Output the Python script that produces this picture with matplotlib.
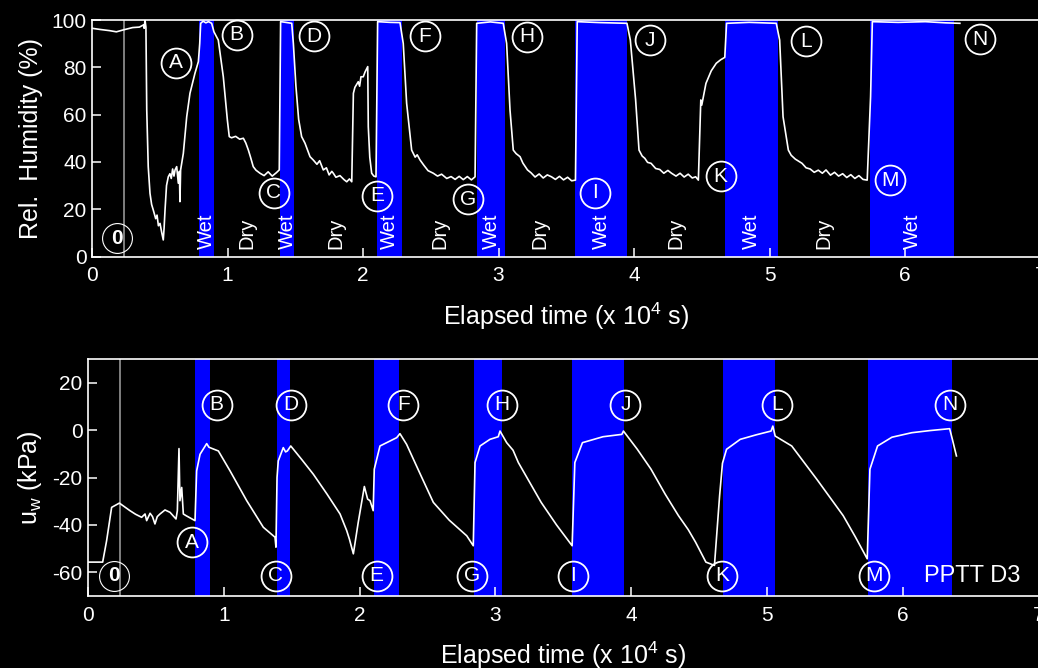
import numpy as np
import matplotlib
matplotlib.use("Agg")
import matplotlib.pyplot as plt

plt.rcParams['font.family'] = ['Liberation Sans', 'DejaVu Sans']
plt.rcParams['mathtext.default'] = 'regular'
plt.rcParams['axes.unicode_minus'] = False

# wetting periods (x 10^4 s)
wet_start = [0.79, 1.39, 2.105, 2.845, 3.566, 4.674, 5.745]
wet_end = [0.897, 1.49, 2.29, 3.045, 3.95, 5.06, 6.365]

# relative humidity record
rh_time = [0.00, 0.06, 0.13, 0.18, 0.23, 0.30, 0.35, 0.379, 0.385, 0.391, 0.398, 0.404, 0.415, 0.428,
           0.44, 0.452, 0.47, 0.48, 0.49, 0.502, 0.515, 0.526, 0.532, 0.539, 0.55, 0.563, 0.575,
           0.585, 0.595, 0.605, 0.613, 0.625, 0.637, 0.645, 0.649, 0.654, 0.674, 0.699, 0.723,
           0.760, 0.785, 0.795, 0.802, 0.82, 0.84, 0.86, 0.883, 0.900, 0.932, 0.969, 0.999, 1.013,
           1.03, 1.06, 1.09, 1.117, 1.135, 1.154, 1.17, 1.19, 1.21, 1.24, 1.27, 1.30, 1.33, 1.36,
           1.382, 1.392, 1.43, 1.474, 1.486, 1.505, 1.525, 1.547, 1.572, 1.609, 1.633, 1.66, 1.68,
           1.707, 1.73, 1.75, 1.77, 1.781, 1.80, 1.83, 1.86, 1.88, 1.90, 1.917, 1.929, 1.94, 1.965,
           1.975, 1.985, 2.002, 2.015, 2.035, 2.039, 2.05, 2.064, 2.08, 2.096, 2.108, 2.20, 2.273,
           2.297, 2.322, 2.359, 2.385, 2.40, 2.421, 2.45, 2.48, 2.519, 2.55, 2.58, 2.618, 2.65,
           2.68, 2.71, 2.74, 2.77, 2.80, 2.827, 2.839, 2.94, 3.035, 3.06, 3.085, 3.109, 3.13,
           3.159, 3.18, 3.214, 3.24, 3.27, 3.30, 3.33, 3.36, 3.391, 3.42, 3.45, 3.48, 3.51, 3.54,
           3.568, 3.581, 3.75, 3.948, 3.973, 4.012, 4.037, 4.06, 4.08, 4.10, 4.126, 4.16, 4.19,
           4.22, 4.25, 4.277, 4.31, 4.34, 4.37, 4.40, 4.43, 4.455, 4.475, 4.493, 4.50, 4.531,
           4.57, 4.607, 4.64, 4.67, 4.683, 4.85, 5.05, 5.075, 5.10, 5.139, 5.16, 5.19, 5.24,
           5.27, 5.30, 5.33, 5.36, 5.39, 5.417, 5.45, 5.48, 5.51, 5.54, 5.57, 5.60, 5.63, 5.66,
           5.69, 5.721, 5.746, 5.759, 5.95, 6.15, 6.30, 6.405]
rh_value = [96.5, 96.0, 95.5, 95.0, 95.8, 96.8, 97.0, 97.9, 96.5, 100.0, 97.0, 62.0, 38.0, 26.7,
            22.0, 19.7, 16.0, 17.5, 13.0, 14.0, 10.0, 7.0, 12.0, 19.7, 30.0, 33.7, 35.0,
            33.0, 37.0, 34.0, 36.6, 38.0, 31.0, 36.0, 23.2, 36.6, 43.6, 59.1, 69.0,
            77.5, 82.4, 90.0, 98.6, 99.5, 98.8, 99.3, 98.6, 95.0, 91.5, 76.0, 57.7, 50.7,
            50.2, 50.8, 49.6, 50.0, 48.0, 45.0, 42.0, 38.0, 36.5, 35.2, 34.2, 35.8, 34.0, 35.4,
            36.6, 99.3, 99.0, 98.6, 90.1, 72.0, 58.0, 50.7, 47.9, 42.2, 40.8, 39.0, 40.5,
            36.6, 37.5, 34.5, 36.0, 35.2, 33.5, 34.2, 32.5, 31.6, 32.8, 31.6, 69.0, 71.5, 73.9,
            72.0, 76.0, 76.0, 78.0, 80.3, 54.9, 42.0, 35.2, 34.0, 33.7, 99.3, 99.0, 98.9,
            90.1, 64.8, 45.0, 42.0, 43.0, 40.8, 38.5, 36.3, 35.2, 34.0, 34.8, 33.0, 33.8,
            32.6, 33.9, 32.5, 33.8, 32.4, 33.7, 98.6, 99.2, 98.6, 90.1, 61.9, 45.0, 43.5,
            42.2, 39.5, 36.6, 35.4, 33.6, 34.9, 33.2, 34.5, 33.7, 32.6, 33.9, 32.4, 33.5, 32.0,
            32.3, 99.3, 98.9, 98.6, 91.5, 66.2, 45.0, 42.5, 41.5, 39.8, 39.4, 37.2, 36.8,
            35.2, 36.4, 35.2, 34.0, 35.2, 33.6, 34.8, 33.2, 33.7, 32.3, 66.2, 64.0, 73.2,
            78.5, 81.7, 83.2, 84.2, 98.6, 99.0, 98.6, 91.5, 59.1, 45.0, 42.8, 41.2, 39.4,
            37.5, 37.0, 35.6, 36.5, 35.2, 36.6, 34.4, 35.6, 34.0, 35.0, 33.4, 34.6, 33.0, 34.2,
            32.6, 32.3, 67.6, 99.3, 99.0, 99.3, 98.8, 98.6]

# pore water pressure record
uw_time = [0.000, 0.108, 0.137, 0.174, 0.231, 0.309, 0.35, 0.395, 0.42, 0.432, 0.457, 0.475, 0.493,
           0.510, 0.530, 0.567, 0.604, 0.648, 0.658, 0.670, 0.677, 0.69, 0.702, 0.722, 0.788,
           0.80, 0.825, 0.874, 0.89, 0.911, 0.96, 1.046, 1.169, 1.291, 1.377, 1.384, 1.392,
           1.401, 1.438, 1.455, 1.468, 1.493, 1.575, 1.659, 1.76, 1.856, 1.905, 1.925, 1.954,
           1.99, 2.035, 2.059, 2.077, 2.10, 2.108, 2.15, 2.224, 2.273, 2.297, 2.346, 2.45,
           2.543, 2.66, 2.789, 2.837, 2.85, 2.887, 2.96, 3.021, 3.034, 3.083, 3.13, 3.169,
           3.337, 3.45, 3.565, 3.585, 3.641, 3.792, 3.931, 3.943, 4.045, 4.146, 4.25, 4.348,
           4.42, 4.474, 4.55, 4.613, 4.651, 4.672, 4.702, 4.803, 4.92, 5.03, 5.043, 5.06,
           5.182, 5.37, 5.561, 5.65, 5.738, 5.758, 5.814, 5.92, 6.066, 6.20, 6.345, 6.365, 6.395]
uw_value = [-55.7, -55.7, -46.7, -32.6, -30.8, -34.0, -35.5, -36.8, -35.4, -38.2, -35.1, -36.5, -39.6,
            -36.5, -35.4, -33.7, -34.7, -37.5, -34.0, -7.8, -29.8, -24.2, -35.4, -36.1, -38.2,
            -17.2, -10.2, -5.7, -7.2, -7.7, -8.8, -17.2, -29.8, -41.0, -45.2, -49.4, -20.0,
            -13.0, -7.4, -9.2, -8.8, -6.7, -12.5, -18.6, -27.0, -35.4, -42.4, -46.0, -52.2,
            -38.9, -23.8, -29.1, -29.8, -34.0, -16.5, -6.7, -4.6, -3.2, -1.5, -6.0, -19.0,
            -30.5, -38.0, -44.6, -48.8, -13.7, -6.7, -3.9, -2.8, -0.4, -5.3, -8.5, -13.7,
            -30.5, -40.0, -48.8, -13.7, -5.3, -2.8, -1.8, -0.4, -8.1, -16.5, -27.0, -36.1,
            -42.0, -47.3, -55.7, -57.1, -27.7, -14.0, -8.1, -3.9, -2.0, -0.4, 1.7, -2.5,
            -6.7, -21.0, -36.1, -45.0, -54.3, -16.5, -6.7, -3.0, -1.1, -0.2, 0.6, -3.9, -10.9]

# circled stage markers
rh_mark_text = ['0', 'A', 'B', 'C', 'D', 'E', 'F', 'G', 'H', 'I', 'J', 'K', 'L', 'M', 'N']
rh_mark_x = [0.187, 0.62, 1.068, 1.343, 1.638, 2.106, 2.458, 2.777, 3.209, 3.715, 4.118, 4.64,
             5.272, 5.89, 6.556]
rh_mark_y = [7.7, 82.0, 93.7, 27.0, 93.2, 25.7, 93.2, 24.2, 93.0, 27.0, 91.5, 34.0, 91.1, 32.3, 91.8]

uw_mark_text = ['0', 'A', 'B', 'C', 'D', 'E', 'F', 'G', 'H', 'I', 'J', 'K', 'L', 'M', 'N']
uw_mark_x = [0.19, 0.768, 0.948, 1.384, 1.495, 2.126, 2.322, 2.825, 3.046, 3.572, 3.957, 4.669,
             5.074, 5.788, 6.349]
uw_mark_y = [-61.4, -47.3, 10.8, -61.4, 10.8, -61.4, 10.8, -61.4, 10.8, -61.4, 10.8, -61.4,
             10.8, -61.4, 10.8]

start_time = 0.233
BLUE = '#0000ff'


def style_axes(ax, ylim, yticks):
    ax.set_facecolor('black')
    ax.set_xlim(0, 7)
    ax.set_ylim(*ylim)
    ax.set_xticks(range(8))
    ax.set_yticks(yticks)
    for side in ['left', 'right', 'top', 'bottom']:
        ax.spines[side].set_color('white')
        ax.spines[side].set_linewidth(1.2)
    ax.tick_params(axis='both', direction='in', length=6.5, width=1.1, colors='white',
                   labelsize=15, top=False, right=False)
    ax.tick_params(axis='x', pad=7)
    ax.tick_params(axis='y', pad=4)
    ax.set_xlabel('Elapsed time (x 10$^4$ s)', color='white', fontsize=18, labelpad=11)


def draw_bands(ax):
    for s, e in zip(wet_start, wet_end):
        ax.axvspan(s, e, color=BLUE, lw=0, zorder=1)
    ax.axvline(start_time, color='#8a8a8a', lw=1.3, zorder=2)


def draw_marks(ax, xs, ys, labels):
    for x, y, t in zip(xs, ys, labels):
        zero = t == '0'
        ax.plot(x, y, 'o', ms=21.5, mfc='none', mec='white', mew=0.8 if zero else 1.3,
                zorder=5, clip_on=False)
        ax.text(x, y, t, color='white', fontsize=15, ha='center', va='center',
                fontweight='bold' if zero else 'normal', zorder=6)


fig = plt.figure(figsize=(10.38, 6.68), dpi=100, facecolor='black')

# relative humidity
ax1 = fig.add_axes([92 / 1038, 1 - 256.5 / 668, 948.5 / 1038, 236.5 / 668])
style_axes(ax1, (0, 100), range(0, 101, 20))
draw_bands(ax1)
ax1.plot(rh_time, rh_value, color='white', lw=1.2, zorder=3)
draw_marks(ax1, rh_mark_x, rh_mark_y, rh_mark_text)
for s, e in zip(wet_start, wet_end):
    ax1.text((s + e) / 2, 3.0, 'Wet', rotation=90, color='white', fontsize=14.5,
             ha='center', va='bottom', zorder=4)
for e, s in zip(wet_end[:-1], wet_start[1:]):
    ax1.text((e + s) / 2, 3.0, 'Dry', rotation=90, color='white', fontsize=14.5,
             ha='center', va='bottom', zorder=4)
ax1.set_ylabel('Rel.  Humidity (%)', color='white', fontsize=18, labelpad=6)

# pore water pressure
ax2 = fig.add_axes([88 / 1038, 1 - 596 / 668, 950.6 / 1038, 237 / 668])
style_axes(ax2, (-70, 30), range(-60, 21, 20))
draw_bands(ax2)
ax2.plot(uw_time, uw_value, color='white', lw=1.2, zorder=3)
draw_marks(ax2, uw_mark_x, uw_mark_y, uw_mark_text)
ax2.text(6.51, -61.4, 'PPTT D3', color='white', fontsize=17, ha='center', va='center', zorder=6)
ax2.set_ylabel('u$_w$ (kPa)', color='white', fontsize=18, labelpad=6)

fig.savefig('out.png', dpi=100, facecolor='black')
